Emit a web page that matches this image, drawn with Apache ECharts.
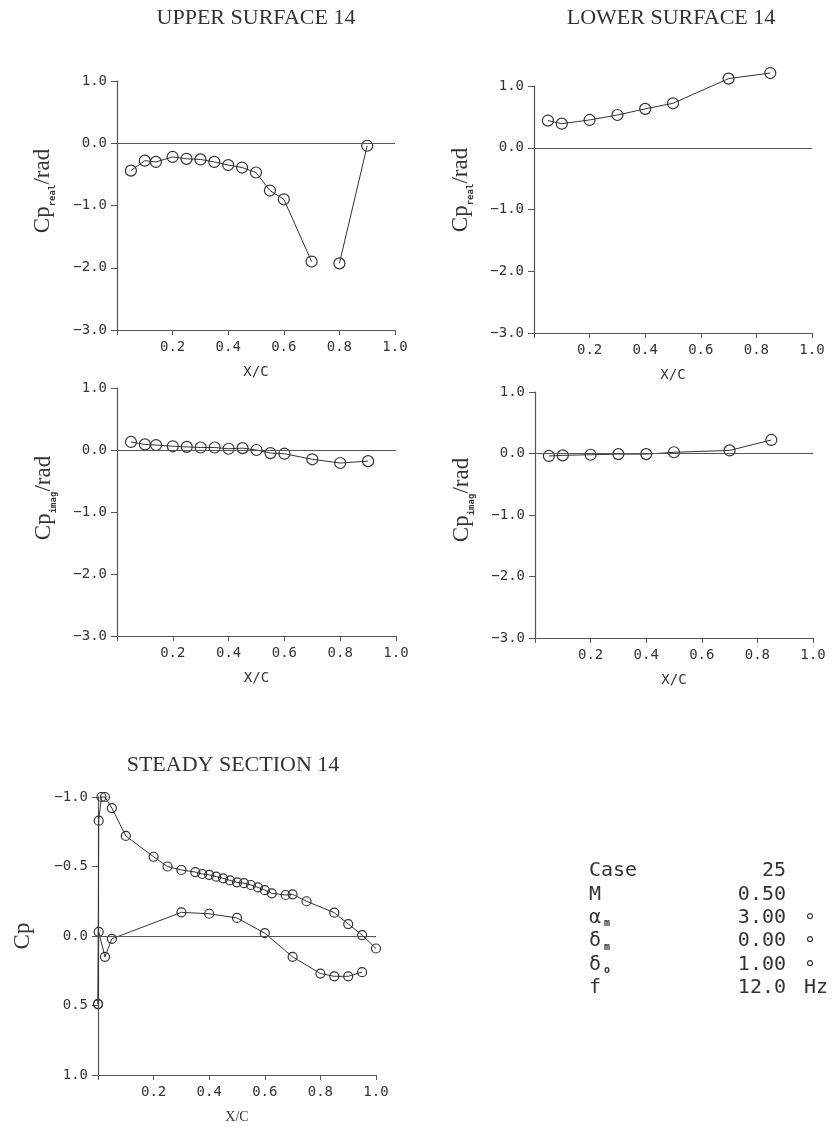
<!DOCTYPE html>
<html>
<head>
<meta charset="utf-8">
<script src="https://cdn.jsdelivr.net/npm/echarts@6/dist/echarts.min.js"></script>
<style>
html,body{margin:0;padding:0;background:#fff;}
#chart{width:834px;height:1131px;}
</style>
</head>
<body>
<div id="chart"></div>
<script>
// ---------- DATA ----------
const titles = ['UPPER SURFACE 14', 'LOWER SURFACE 14', 'STEADY SECTION 14'];
const xTicks = [0.2, 0.4, 0.6, 0.8, 1.0];
const yTicksUnsteady = [1.0, 0.0, -1.0, -2.0, -3.0];
const yTicksSteady = [-1.0, -0.5, 0.0, 0.5, 1.0];

// upper surface (unsteady)
const upperX = [0.05, 0.10, 0.14, 0.20, 0.25, 0.30, 0.35, 0.40, 0.45, 0.50, 0.55, 0.60, 0.70, 0.80, 0.90];
const upperRealY = [-0.44, -0.28, -0.30, -0.22, -0.25, -0.26, -0.30, -0.35, -0.39, -0.47, -0.76, -0.90, -1.90, -1.93, -0.04];
const upperRealBreakAfter = 0.70; // line not drawn between 0.70 and 0.80
const upperImagY = [0.13, 0.09, 0.08, 0.06, 0.05, 0.04, 0.04, 0.02, 0.03, 0.00, -0.05, -0.06, -0.15, -0.21, -0.18];

// lower surface (unsteady)
const lowerX = [0.05, 0.10, 0.20, 0.30, 0.40, 0.50, 0.70, 0.85];
const lowerRealY = [0.44, 0.39, 0.45, 0.53, 0.63, 0.72, 1.12, 1.21];
const lowerImagY = [-0.04, -0.03, -0.02, -0.01, -0.01, 0.02, 0.05, 0.22];

// steady section
const steadyUpperX = [0, 0.0025, 0.0125, 0.025, 0.05, 0.10, 0.20, 0.25, 0.30, 0.35, 0.375, 0.40, 0.425, 0.45, 0.475, 0.50, 0.525, 0.55, 0.575, 0.60, 0.625, 0.675, 0.70, 0.75, 0.85, 0.90, 0.95, 1.00];
const steadyUpperY = [0.49, -0.83, -1.00, -1.00, -0.92, -0.72, -0.57, -0.50, -0.475, -0.46, -0.446, -0.44, -0.427, -0.415, -0.40, -0.386, -0.38, -0.367, -0.35, -0.33, -0.307, -0.295, -0.30, -0.25, -0.168, -0.086, -0.007, 0.09];
const steadyLowerX = [0, 0.0025, 0.025, 0.05, 0.30, 0.40, 0.50, 0.60, 0.70, 0.80, 0.85, 0.90, 0.95];
const steadyLowerY = [0.49, -0.03, 0.15, 0.02, -0.17, -0.16, -0.13, -0.02, 0.15, 0.27, 0.29, 0.29, 0.26];

// case info
const infoLabels = ['Case', 'M', 'α', 'δ', 'δ', 'f'];
const infoSubs = ['', '', 'm', 'm', 'o', ''];
const infoValues = ['25', '0.50', '3.00', '0.00', '1.00', '12.0'];
const infoUnits = ['', '', '°', '°', '°', 'Hz'];

// ---------- STYLE ----------
const INK = '#333';
const AX = '#555';
const MONO = '"DejaVu Sans Mono", "Liberation Mono", monospace';
const SERIF = '"Liberation Serif", "DejaVu Serif", serif';

const grids = [
  {left: 117, top: 81, width: 278, height: 249},
  {left: 534, top: 86, width: 278, height: 247},
  {left: 117, top: 388, width: 279, height: 248},
  {left: 535, top: 392, width: 278, height: 246},
  {left: 98, top: 797, width: 278, height: 278}
];

function xAxisFor(i) {
  return {
    type: 'value', gridIndex: i, min: 0, max: 1, interval: 0.2,
    name: 'X/C', nameLocation: 'middle', nameGap: 35,
    nameTextStyle: {fontFamily: i === 4 ? SERIF : MONO, fontSize: 14, color: INK},
    axisLine: {onZero: false, lineStyle: {color: AX, width: 1.2}},
    axisTick: {show: true, length: 5, lineStyle: {color: AX}},
    axisLabel: {margin: 10, fontFamily: MONO, fontSize: 14, color: INK,
      formatter: v => (xTicks.some(t => Math.abs(t - v) < 1e-6) ? v.toFixed(1) : '')},
    splitLine: {show: false}
  };
}
function yAxisFor(i, steady) {
  const ticks = steady ? yTicksSteady : yTicksUnsteady;
  return {
    type: 'value', gridIndex: i,
    min: steady ? -1 : -3, max: 1, interval: steady ? 0.5 : 1,
    inverse: !!steady,
    axisLine: {onZero: false, lineStyle: {color: AX, width: 1.2}},
    axisTick: {show: true, length: 6, lineStyle: {color: AX}},
    axisLabel: {margin: 10, fontFamily: MONO, fontSize: 14, color: INK,
      formatter: v => (ticks.some(t => Math.abs(t - v) < 1e-6) ? v.toFixed(1).replace('-', '−') : '')},
    splitLine: {show: false}
  };
}

const zeroLine = {
  silent: true, symbol: 'none', label: {show: false},
  lineStyle: {color: AX, width: 1.2, type: 'solid'},
  data: [{yAxis: 0}]
};

function lineSeries(i, xs, ys, opts) {
  opts = opts || {};
  const data = [];
  xs.forEach((x, k) => {
    data.push([x, ys[k]]);
    if (opts.breakAfter !== undefined && x === opts.breakAfter) data.push('-');
  });
  const s = {
    type: 'line', xAxisIndex: i, yAxisIndex: i, data: data,
    symbol: 'circle', symbolSize: opts.size || 11, showSymbol: true,
    connectNulls: false, clip: false,
    lineStyle: {color: INK, width: 1},
    itemStyle: {color: 'rgba(255,255,255,0)', borderColor: INK, borderWidth: 1.2},
    animation: false, z: 3
  };
  if (opts.zero) s.markLine = zeroLine;
  return s;
}

// ---------- GRAPHIC TEXT ----------
const graphic = [];
const titlePos = [[256, 18], [671, 18], [233, 765]];
titles.forEach((t, k) => {
  graphic.push({type: 'text', x: titlePos[k][0], y: titlePos[k][1],
    style: {text: t, font: '22px ' + SERIF, fill: INK, align: 'center', verticalAlign: 'middle'}});
});

function cpTitle(x, y, sub) {
  const txt = sub ? '{m|Cp}{s|' + sub + '}{m|/rad}' : '{m|Cp}';
  graphic.push({type: 'text', x: x, y: y, rotation: Math.PI / 2,
    style: {text: txt, align: 'center', verticalAlign: 'middle', fill: INK,
      rich: {
        m: {fontFamily: SERIF, fontSize: 23, fill: INK, lineHeight: 28, verticalAlign: 'middle'},
        s: {fontFamily: MONO, fontSize: 9, fontWeight: 'bold', fill: INK, lineHeight: 28, verticalAlign: 'bottom'}
      }}});
}
cpTitle(43, 191, 'real');
cpTitle(461, 190, 'real');
cpTitle(44, 498, 'imag');
cpTitle(462, 500, 'imag');
cpTitle(23, 936, '');

// case info box
const rowY0 = 871, rowStep = 23.4;
infoLabels.forEach((lab, k) => {
  const y = rowY0 + k * rowStep;
  graphic.push({type: 'text', x: 589, y: y,
    style: {text: infoSubs[k] ? '{a|' + lab + '}{b|' + infoSubs[k] + '}' : '{a|' + lab + '}',
      align: 'left', verticalAlign: 'middle', fill: INK,
      rich: {a: {fontFamily: MONO, fontSize: 20, fill: INK, lineHeight: 22, verticalAlign: 'middle'},
             b: {fontFamily: MONO, fontSize: 10, fontWeight: 'bold', fill: INK, lineHeight: 22, verticalAlign: 'bottom', padding: [0, 0, 0, 3]}}}});
  graphic.push({type: 'text', x: 786, y: y,
    style: {text: infoValues[k], font: '20px ' + MONO, fill: INK, align: 'right', verticalAlign: 'middle'}});
  if (infoUnits[k]) {
    graphic.push({type: 'text', x: 804, y: y + (infoUnits[k] === '°' ? 5 : 0),
      style: {text: infoUnits[k], font: '20px ' + MONO, fill: INK, align: 'left', verticalAlign: 'middle'}});
  }
});

const option = {
  backgroundColor: '#fff',
  animation: false,
  grid: grids,
  xAxis: [0, 1, 2, 3, 4].map(i => xAxisFor(i)),
  yAxis: [0, 1, 2, 3, 4].map(i => yAxisFor(i, i === 4)),
  series: [
    lineSeries(0, upperX, upperRealY, {zero: true, breakAfter: upperRealBreakAfter}),
    lineSeries(1, lowerX, lowerRealY, {zero: true}),
    lineSeries(2, upperX, upperImagY, {zero: true}),
    lineSeries(3, lowerX, lowerImagY, {zero: true}),
    lineSeries(4, steadyUpperX, steadyUpperY, {zero: true, size: 9}),
    lineSeries(4, steadyLowerX, steadyLowerY, {size: 9})
  ],
  graphic: graphic
};

const chart = echarts.init(document.getElementById('chart'), null, {renderer: 'canvas'});
chart.setOption(option);
</script>
</body>
</html>
